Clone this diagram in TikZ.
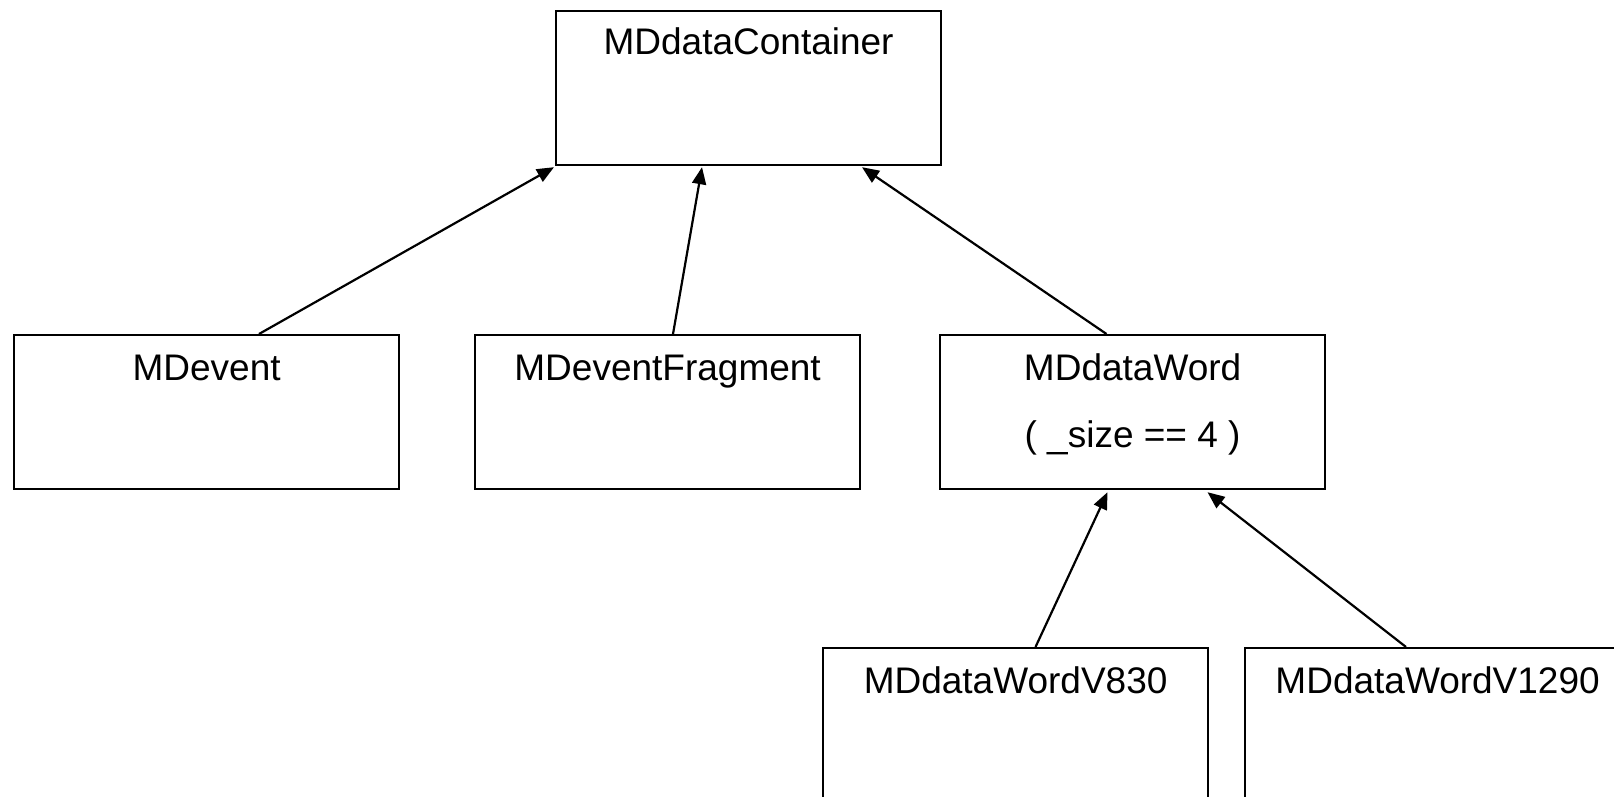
\documentclass[tikz,border=0pt]{standalone}
\usepackage{fontspec}
\setmainfont{Liberation Sans}
\usetikzlibrary{arrows.meta,calc}
\tikzset{
  cls/.style={draw, line width=2.2pt, rectangle, minimum width=385pt, minimum height=154pt, inner sep=0pt, anchor=north west},
  lbl/.style={anchor=base, font=\fontsize{37}{44}\selectfont, inner sep=0pt},
  arr/.style={line width=2.2pt, -{Triangle[length=17pt,width=14pt]}}
}
\begin{document}
\begin{tikzpicture}[x=1pt,y=-1pt]
\clip (0,0) rectangle (1614,797);
\fill[white] (0,0) rectangle (1614,797);
\node[cls, label={[lbl,yshift=-45pt]north:MDdataContainer}] (dc) at (555,10) {};
\node[cls, label={[lbl,yshift=-46pt]north:MDevent}] (ev) at (13,334) {};
\node[cls, label={[lbl,yshift=-46pt]north:MDeventFragment}] (ef) at (474,334) {};
\node[cls, label={[lbl,yshift=-46pt]north:MDdataWord}, label={[lbl,yshift=-113pt]north:( \_size == 4 )}] (dw) at (939,334) {};
\node[cls, label={[lbl,yshift=-46pt]north:MDdataWordV830}] (v830) at (822,647) {};
\node[cls, label={[lbl,yshift=-46pt]north:MDdataWordV1290}] (v1290) at (1244,647) {};
\draw[arr] ($(ev.north west)+(246,0)$) -- ($(dc.south west)+(-1,1)$);
\draw[arr] ($(ef.north west)+(199,0)$) -- ($(dc.south west)+(147,1)$);
\draw[arr] ($(dw.north west)+(167.5,0)$) -- ($(dc.south west)+(307,1)$);
\draw[arr] ($(v830.north west)+(213.5,0)$) -- ($(dw.south west)+(168.5,2)$);
\draw[arr] ($(v1290.north west)+(162,0)$) -- ($(dw.south west)+(268.5,2)$);
\end{tikzpicture}
\end{document}
